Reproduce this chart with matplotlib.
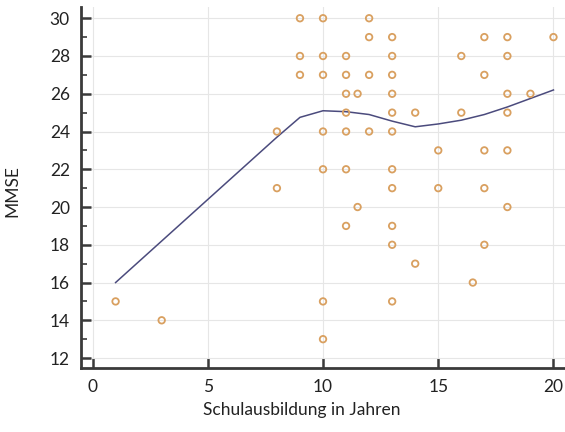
import numpy as np
import matplotlib.pyplot as plt
from matplotlib.ticker import MultipleLocator

# scatter: years of schooling vs MMSE
schule = [9, 10, 12,
          12, 13, 17, 18, 20,
          9, 10, 11, 13, 16, 18,
          9, 10, 11, 12, 13, 17,
          11, 11.5, 13, 18, 19,
          11, 13, 14, 16, 18,
          8, 10, 11, 12, 13,
          15, 17, 18,
          10, 11, 13,
          8, 13, 15, 17,
          11.5, 18,
          11, 13,
          13, 17,
          14,
          16.5,
          1, 10, 13,
          3,
          10]
mmse = [30, 30, 30,
        29, 29, 29, 29, 29,
        28, 28, 28, 28, 28, 28,
        27, 27, 27, 27, 27, 27,
        26, 26, 26, 26, 26,
        25, 25, 25, 25, 25,
        24, 24, 24, 24, 24,
        23, 23, 23,
        22, 22, 22,
        21, 21, 21, 21,
        20, 20,
        19, 19,
        18, 18,
        17,
        16,
        15, 15, 15,
        14,
        13]

# smoothed trend line
trend_x = [1, 3, 8, 9, 10, 11, 12, 13, 14, 15, 16, 17, 18, 19, 20]
trend_y = [16.0, 18.2, 23.7, 24.75, 25.1, 25.05, 24.9, 24.55, 24.25, 24.4, 24.6, 24.9, 25.3, 25.75, 26.2]

plt.rcParams['font.family'] = ['Lato', 'DejaVu Sans']

fig = plt.figure(figsize=(5.65, 4.32), dpi=100)
ax = fig.add_axes([0.1434, 0.148, 0.8566, 0.836])

ax.grid(True, color='#e6e6e6', linewidth=0.8, zorder=0)
ax.plot(trend_x, trend_y, color='#4b4b7d', linewidth=1.1, zorder=2)
ax.scatter(schule, mmse, s=22, facecolors='none', edgecolors='#d9a060',
           linewidths=1.3, zorder=3)

ax.set_xlim(-0.5, 20.5)
ax.set_ylim(11.47, 30.6)
ax.xaxis.set_major_locator(MultipleLocator(5))
ax.yaxis.set_major_locator(MultipleLocator(2))
ax.yaxis.set_minor_locator(MultipleLocator(1))

for s in ['top', 'right']:
    ax.spines[s].set_visible(False)
for s in ['left', 'bottom']:
    ax.spines[s].set_linewidth(2)
    ax.spines[s].set_color('#3a3a3a')

ax.tick_params(which='major', direction='in', length=7, width=1.8,
               color='#3a3a3a', labelsize=12.5, labelcolor='#222222', pad=8)
ax.tick_params(which='minor', direction='in', length=4, width=1.2, color='#3a3a3a')
ax.tick_params(axis='x', which='minor', length=0)

ax.set_xlabel('Schulausbildung in Jahren', fontsize=12.5, color='#222222')
ax.set_ylabel('MMSE', fontsize=12.5, color='#222222')
ax.xaxis.set_label_coords(0.457, -0.094)
ax.yaxis.set_label_coords(-0.126, 0.49)

fig.savefig('out.png')
